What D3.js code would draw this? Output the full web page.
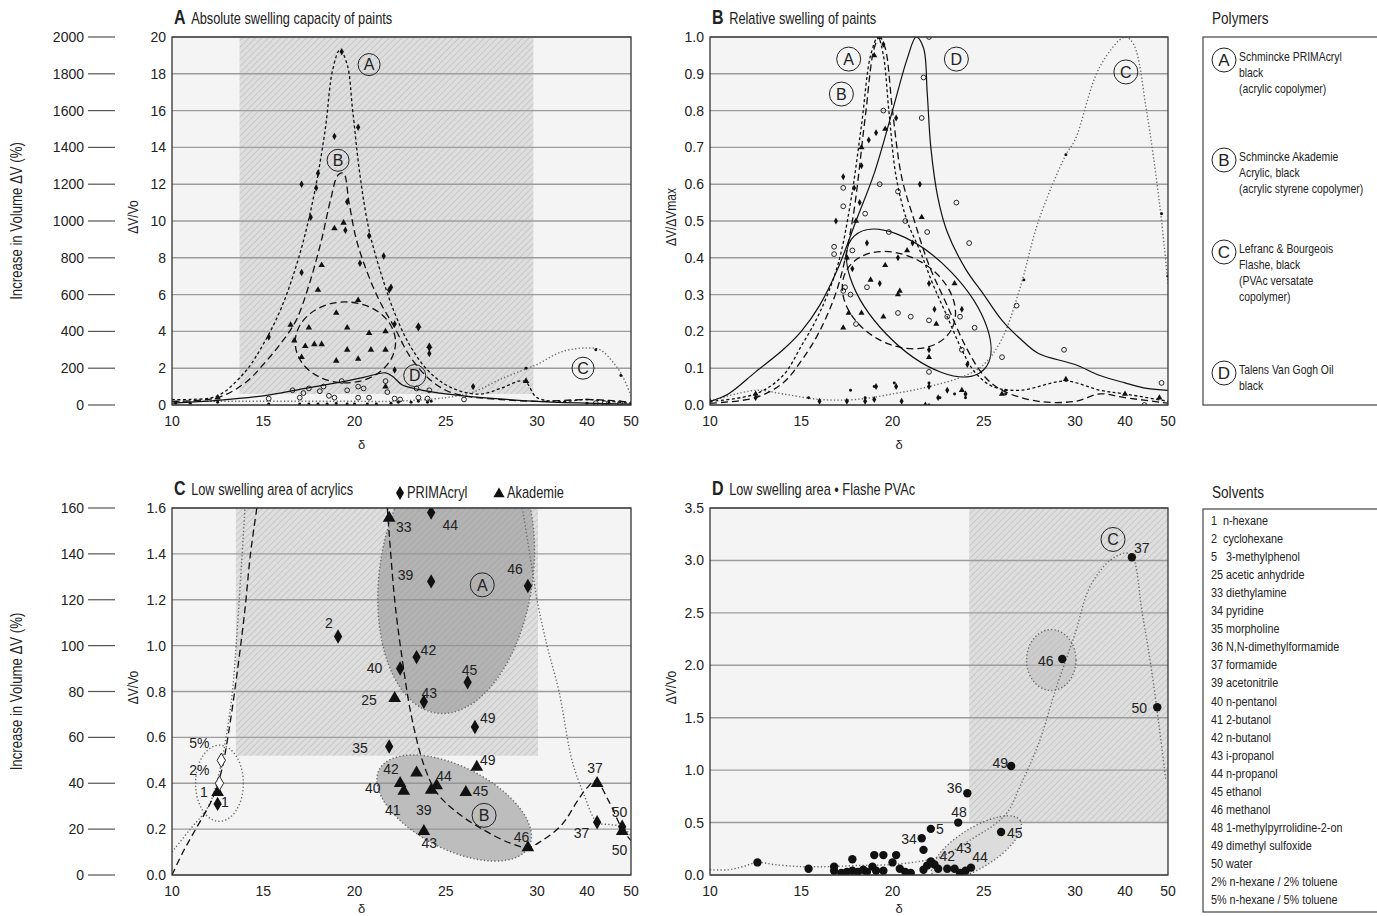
<!DOCTYPE html>
<html lang='en'>
<head>
<meta http-equiv='Content-Type' content='text/html;charset=utf-8'/>
<title>Swelling of paints in solvents</title>
<script src='https://d3js.org/d3.v7.min.js'></script>
<style>
	body { margin: 0; background: #ffffff; }
	svg text { font-family: 'Liberation Sans', Arial, sans-serif; fill: #222; }
</style>
</head>
<body>
<script>
'use strict'

// ---- shared axis values ----
const xBreaks = [10, 30, 40, 50]			// the delta axis is stretched between 10 and 30
const xTicks = [10, 15, 20, 25, 30, 40, 50]

// ---- panel A : absolute swelling (dV/V0) ----
const aCurveA = [[10,0.3],[11,0.3],[12.5,0.5],[14,1.8],[15,3.3],[16,5.3],[17,8.2],[17.8,11.5],[18.4,15],[18.8,18.2],[19.2,19.3],[19.6,18.5],[19.9,16],[20.3,12.5],[20.8,9.5],[21.5,7],[22.2,5],[23,3.3],[24,1.9],[25,1.1],[26,0.7],[27,0.6],[28,0.9],[29.3,1.3],[30,0.4],[35,0.2],[40,0.3],[45,0.2],[50,0.1]]
const aCurveB = [[10,0.2],[12.5,0.4],[14,1.2],[15,2.2],[16,3.4],[16.8,4.6],[17.5,6.5],[18.2,9],[18.7,11.2],[19.1,12.5],[19.4,12.6],[19.7,11],[20.1,9],[20.7,7.2],[21.4,5.6],[22.2,4.2],[23,2.7],[24,1.5],[25,0.8],[26,0.5],[28,0.3],[30,0.2],[40,0.3],[45,0.25],[50,0.15]]
const aCurveC = [[10,0.2],[15,0.2],[20,0.2],[22,0.2],[25,0.4],[26.5,0.7],[28,1.4],[29.5,2.0],[30,2.2],[35,2.9],[40,3.1],[43,3.0],[46,2.3],[48,1.6],[50,0.5]]
const aCurveD = [[10,0.1],[12.5,0.25],[15,0.5],[17,0.85],[19,1.2],[20.5,1.5],[21.7,1.75],[22.1,1.55],[22.6,1.1],[23.5,0.85],[25,0.6],[27,0.4],[30,0.2],[40,0.1],[50,0.05]]
const aDiamonds = [[19.3,19.2],[20.2,15.1],[18.9,14.6],[18.0,12.6],[17.1,12.0],[17.9,11.8],[19.6,11.05],[17.6,10.2],[19.5,9.5],[20.8,9.2],[20.3,7.7],[21.6,8.1],[17.1,7.2],[21.9,6.25],[22.0,6.4],[15.3,3.7],[23.5,4.2],[24.1,3.1],[22.2,1.9],[26.5,1.0],[22.2,4.4],[24.1,2.8]]
const aTriangles = [[18.9,9.6],[19.4,9.9],[18.2,7.6],[18.0,6.25],[19.0,5.0],[20.2,5.7],[16.5,4.35],[17.5,4.2],[19.6,4.2],[20.8,3.9],[16.7,3.5],[17.3,3.2],[17.8,3.3],[18.2,3.3],[19.6,3.0],[20.9,3.0],[21.7,3.0],[17.1,2.6],[19.0,2.4],[20.2,2.5],[21.7,4.0],[23.5,4.3],[24.1,3.2],[29.4,1.3],[21.7,1.0],[12.5,0.4]]
const aCircles = [[15.3,0.35],[16.6,0.8],[17.2,0.65],[17.5,0.9],[18.1,0.75],[18.6,0.5],[18.3,1.0],[18.9,0.4],[19.6,0.8],[19.3,1.3],[20.2,1.0],[20.5,0.9],[20.8,0.4],[20.2,0.4],[21.7,1.3],[21.8,0.7],[22.2,0.35],[23.4,0.9],[24.1,0.8],[23.5,0.4],[24.0,0.35],[26.0,0.3],[42,0.1],[44,0.1],[47.5,0.1],[17.0,0.4],[22.5,0.3]]
const aDots = [[10.2,0.1],[11,0.1],[12.5,0.15],[15.3,0.05],[17,0.05],[17.5,0.05],[18,0.05],[18.5,0.05],[19,0.08],[19.6,0.05],[20,0.05],[20.7,0.06],[21.2,0.05],[22,0.1],[22.4,0.15],[23.1,0.15],[23.5,0.2],[24,0.15],[24.2,0.2],[26.5,1.0],[29.4,2.0],[42,3.0],[47.7,1.6],[40,0.1],[45,0.1],[50,0.05]]
const aLetters = [['A',20.8,18.5],['B',19.1,13.3],['C',39.2,2.0],['D',23.3,1.6]]
const aEllipses = [{cx:19.5, cy:3.4, rx:2.75, ry:2.2, rot:0, line:'B'}]
const aHatch = [13.7, 29.8, 0.6, 20]

// ---- panel B : relative swelling (dV/dVmax) ----
const bCurveA = [[10,0.01],[12.5,0.03],[14,0.08],[15,0.16],[16,0.25],[17,0.38],[17.7,0.55],[18.3,0.76],[18.8,0.95],[19.2,1.0],[19.5,0.95],[19.8,0.8],[20.2,0.62],[20.8,0.5],[21.5,0.42],[22.2,0.33],[23,0.24],[23.8,0.15],[24.5,0.09],[25.5,0.05],[27,0.04],[29.5,0.065],[35,0.04],[40,0.03],[50,0.01]]
const bCurveB = [[10,0.005],[12.5,0.02],[14,0.06],[15,0.12],[16,0.2],[17,0.32],[17.8,0.5],[18.5,0.78],[19,0.97],[19.3,1.0],[19.6,0.97],[20,0.8],[20.5,0.62],[21.2,0.5],[22,0.38],[23,0.27],[24,0.16],[25,0.08],[26,0.04],[28,0.01],[30,0.01],[35,0.03],[40,0.02],[50,0.005]]
const bCurveC = [[10,0.01],[12.5,0.04],[14,0.03],[16,0.015],[18,0.015],[20,0.03],[22,0.05],[24,0.08],[25,0.11],[26,0.18],[27,0.32],[28,0.5],[29.5,0.68],[30,0.72],[35,0.92],[40,1.0],[42,0.98],[45,0.8],[48,0.55],[50,0.33]]
const bCurveD = [[10,0.01],[11,0.03],[12.5,0.09],[14,0.15],[15,0.2],[16,0.27],[17,0.37],[18,0.5],[19,0.63],[20,0.8],[20.8,0.94],[21.3,1.0],[21.7,0.97],[21.9,0.85],[22.1,0.7],[22.5,0.56],[23,0.47],[24,0.37],[25,0.3],[26,0.23],[27,0.18],[28,0.14],[30,0.11],[35,0.08],[40,0.06],[45,0.045],[50,0.04]]
const bDiamonds = [[19.3,1.0],[19.5,0.98],[20.2,0.78],[19.1,0.74],[18.7,0.72],[18.3,0.65],[17.9,0.59],[18.2,0.55],[17.3,0.62],[16.9,0.5],[17.5,0.4],[17.8,0.37],[18.6,0.44],[19.3,0.33],[20.3,0.4],[21.1,0.44],[21.5,0.6],[22.0,0.33],[22.3,0.26],[23.8,0.26],[22.0,0.15],[24.1,0.11],[19.1,0.05],[20.2,0.05],[22.0,0.05],[23.0,0.04],[24.0,0.03],[22.5,0.02],[17.5,0.01],[18.5,0.01],[19.0,0.015],[20.5,0.01],[21.8,0.0],[16.0,0.01],[12.5,0.02],[10.0,0.01]]
const bTriangles = [[19.0,0.95],[19.6,0.75],[18.3,0.7],[18.0,0.5],[17.5,0.4],[17.6,0.25],[17.3,0.21],[18.3,0.25],[18.8,0.34],[19.6,0.38],[19.5,0.24],[20.3,0.3],[20.4,0.31],[20.8,0.42],[21.6,0.51],[23.4,0.33],[22.4,0.22],[22.0,0.13],[23.8,0.04],[26.0,0.03],[29.5,0.07],[40,0.03],[48,0.02],[12.5,0.03]]
const bCircles = [[22.0,1.0],[21.7,0.89],[21.6,0.78],[19.5,0.8],[19.3,0.6],[17.3,0.54],[16.8,0.43],[16.8,0.41],[17.4,0.32],[17.3,0.31],[17.8,0.42],[18.5,0.52],[18.6,0.32],[19.8,0.47],[20.3,0.58],[20.7,0.5],[21.9,0.47],[23.5,0.55],[24.2,0.44],[20.3,0.25],[21.0,0.24],[18.0,0.22],[17.7,0.3],[22.0,0.23],[23.0,0.24],[23.7,0.24],[24.5,0.21],[23.8,0.15],[22.0,0.09],[26.0,0.13],[26.8,0.27],[29.4,0.15],[48.5,0.06],[44.5,0.0],[17.3,0.59]]
const bDots = [[17.7,0.04],[18.5,0.02],[19.0,0.05],[20.1,0.06],[22.0,0.06],[22.6,0.02],[23.4,0.03],[24.0,0.02],[26.2,0.04],[26.2,0.03],[29.5,0.68],[48.5,0.52],[50,0.35],[27.2,0.34],[22,0.0],[15.4,0.02]]
const bLetters = [['A',17.6,0.94],['B',17.2,0.845],['C',40.2,0.905],['D',23.5,0.94]]
const bEllipses = [{cx:20.35, cy:0.285, rx:3.3, ry:0.12, rot:30, line:'B'}, {cx:21.44, cy:0.277, rx:5.1, ry:0.122, rot:46, line:'D'}]

// ---- panel C : low swelling area of acrylics ----
const cPrimacryl = [[12.5,0.31],[19.1,1.04],[21.9,0.56],[22.5,0.90],[23.4,0.95],[23.8,0.755],[24.2,1.28],[24.2,1.58],[26.2,0.84],[26.6,0.645],[29.5,1.26],[42.3,0.23],[48,0.21]]
const cPrimacrylOpen = [[12.6,0.40],[12.7,0.50]]
const cAkademie = [[12.5,0.36],[21.9,1.556],[22.2,0.77],[22.5,0.40],[22.7,0.366],[23.4,0.445],[24.2,0.37],[24.5,0.39],[26.1,0.36],[26.7,0.47],[23.8,0.19],[29.5,0.12],[42.3,0.40],[48,0.19]]
const cLabels = [['33',22.7,1.518],['44',25.25,1.526],['39',22.8,1.308],['46',28.8,1.334],['2',18.6,1.099],['42',24.05,0.981],['40',21.1,0.904],['45',26.3,0.894],['25',20.8,0.763],['43',24.1,0.795],['49',27.3,0.684],['35',20.3,0.555],['49',27.3,0.50],['42',22.0,0.462],['44',24.9,0.43],['40',21.0,0.38],['45',26.9,0.368],['41',22.1,0.283],['39',23.8,0.283],['43',24.1,0.139],['46',29.15,0.167],['37',41.8,0.466],['37',38.9,0.183],['50',47.4,0.276],['50',47.4,0.109],['5%',11.5,0.575],['2%',11.5,0.458],['1',11.75,0.363],['1',12.9,0.32]]
const cDashLeft = [[10,0.0],[10.6,0.1],[11.3,0.2],[12.2,0.33],[12.7,0.45],[13.1,0.62],[13.6,0.9],[14.0,1.16],[14.3,1.4],[14.65,1.6]]
const cDashRight = [[21.8,1.6],[22.2,1.2],[22.6,0.95],[23.1,0.7],[23.8,0.48],[24.5,0.36],[25.5,0.28],[27,0.2],[28.5,0.14],[29.5,0.12],[31,0.15],[35,0.22],[38,0.32],[40,0.38],[42,0.41],[45,0.32],[48,0.2],[50,0.15]]
const cDotLeft = [[10,0.1],[11,0.2],[12,0.3],[12.6,0.45],[13.0,0.62],[13.3,0.79],[13.6,1.1],[14.0,1.6]]
const cDotRight = [[29.2,1.6],[29.8,1.3],[30,1.2],[32,1.0],[34.4,0.8],[37,0.5],[39.4,0.35],[42.3,0.23],[45,0.22],[48,0.21],[50,0.17]]
const cLetters = [['A',27.0,1.265],['B',27.1,0.26]]
const cEllipses = [
	{cx:25.57, cy:1.31, rx:4.2, ry:0.61, rot:8, line:'C', fill:'#8f8f8f'},
	{cx:25.46, cy:0.292, rx:4.8, ry:0.18, rot:27, line:'C', fill:'#8f8f8f'},
	{cx:12.6, cy:0.40, rx:1.31, ry:0.166, rot:0, line:'C', fill:'none'}
]
const cHatch = [13.5, 30.2, 0.52, 1.6]

// ---- panel D : low swelling area of Flashe PVAc ----
const dFlashe = [[12.6,0.12],[15.4,0.06],[16.8,0.08],[16.8,0.04],[17.2,0.02],[17.5,0.03],[17.8,0.04],[17.8,0.15],[18.1,0.03],[18.4,0.05],[18.6,0.03],[18.9,0.08],[19.0,0.19],[19.1,0.04],[19.5,0.19],[19.5,0.04],[20.2,0.19],[20.0,0.12],[20.4,0.06],[20.7,0.03],[21.0,0.02],[21.7,0.24],[21.6,0.35],[22.1,0.44],[21.7,0.05],[21.9,0.09],[22.1,0.13],[22.3,0.10],[22.5,0.06],[23.0,0.06],[23.4,0.06],[23.7,0.02],[24.0,0.04],[24.3,0.07],[23.6,0.50],[24.1,0.78],[25.95,0.41],[26.5,1.04],[29.3,2.06],[41.6,3.03],[47.5,1.60]]
const dLabels = [['34',20.9,0.34],['5',22.6,0.44],['48',23.65,0.60],['36',23.4,0.83],['49',25.9,1.07],['45',26.7,0.40],['46',28.4,2.04],['37',43.9,3.12],['50',43.3,1.59],['42',23.0,0.18],['43',23.9,0.26],['44',24.8,0.17]]
const dCurveC = [[10,0.05],[11,0.05],[11.8,0.08],[12.6,0.12],[13.5,0.1],[15,0.08],[16.5,0.08],[18,0.09],[20,0.1],[21.5,0.13],[22.6,0.17],[23.5,0.25],[24.5,0.36],[25.5,0.47],[26.3,0.6],[27,0.85],[28,1.25],[29,1.8],[30,2.3],[33,2.75],[37,3.0],[40,3.07],[41.6,3.05],[44,2.5],[46,2.0],[48,1.4],[49.5,0.9]]
const dLetters = [['C',37.6,3.2]]
const dEllipses = [
	{cx:24.6, cy:0.258, rx:2.83, ry:0.19, rot:-32, line:'C', fill:'#c9c9c9'},
	{cx:28.7, cy:2.05, rx:1.5, ry:0.29, rot:0, line:'C', fill:'#bdbdbd'}
]
const dHatch = [24.2, 50, 0.5, 3.5]

// ---- legends ----
const polymerNames = [
	['A', ['Schmincke PRIMAcryl', 'black', '(acrylic copolymer)']],
	['B', ['Schmincke Akademie', 'Acrylic, black', '(acrylic styrene copolymer)']],
	['C', ['Lefranc & Bourgeois', 'Flashe, black', '(PVAc versatate', 'copolymer)']],
	['D', ['Talens Van Gogh Oil', 'black']]
]
const solventNames = ['1  n-hexane', '2  cyclohexane', '5   3-methylphenol', '25 acetic anhydride', '33 diethylamine', '34 pyridine', '35 morpholine', '36 N,N-dimethylformamide', '37 formamide', '39 acetonitrile', '40 n-pentanol', '41 2-butanol', '42 n-butanol', '43 i-propanol', '44 n-propanol', '45 ethanol', '46 methanol', '48 1-methylpyrrolidine-2-on', '49 dimethyl sulfoxide', '50 water', '2% n-hexane / 2% toluene', '5% n-hexane / 5% toluene']

// line look of each paint
const lineStyle = {
	A: {dash: '3,2.5', stroke: '#111', width: 1.3},
	B: {dash: '7,4', stroke: '#111', width: 1.3},
	C: {dash: '1.3,2.2', stroke: '#6a6a6a', width: 1.4},
	D: {dash: null, stroke: '#111', width: 1.2}
}
const narrow = 0.8		// the printed face is a condensed one

const svg = d3.select('body').append('svg')
	.attr('width', 1377)
	.attr('height', 916)

svg.append('rect')
	.attr('width', '100%')
	.attr('height', '100%')
	.attr('fill', '#ffffff')

const defs = svg.append('defs')
const hatch = defs.append('pattern')
	.attr('id', 'hatch')
	.attr('width', 4.5)
	.attr('height', 4.5)
	.attr('patternUnits', 'userSpaceOnUse')
	.attr('patternTransform', 'rotate(45)')
hatch.append('rect').attr('width', 4.5).attr('height', 4.5).attr('fill', '#dedede')
hatch.append('line').attr('x1', 0).attr('y1', 0).attr('x2', 0).attr('y2', 4.5)
	.attr('stroke', '#c3c3c3').attr('stroke-width', 1.6)

/**
 * ctext
 * Condensed text, squeezed horizontally.
 */
function ctext(parent, x, y, size, str, anchor, turn)
{
	return parent.append('text')
		.attr('transform', `translate(${x},${y})${turn ? ' rotate(-90)' : ''} scale(${narrow},1)`)
		.attr('text-anchor', anchor || 'start')
		.style('font-size', size + 'px')
		.text(str)
}

/**
 * panel
 * Draw frame, grid, hatching and axes of one plot.
 * @returns {object} scales and a clipped group for the marks
 */
function panel(p)
{
	const x = d3.scaleLinear().domain(xBreaks)
		.range([p.left, p.left + 365, p.left + 415, p.left + p.width])
	const y = d3.scaleLinear().domain([0, p.yMax]).range([p.top + p.height, p.top])

	defs.append('clipPath').attr('id', 'clip' + p.id)
		.append('rect')
		.attr('x', p.left).attr('y', p.top)
		.attr('width', p.width).attr('height', p.height)

	svg.append('rect')
		.attr('x', p.left).attr('y', p.top)
		.attr('width', p.width).attr('height', p.height)
		.attr('fill', '#f4f4f4')

	if (p.hatch)
	{
		svg.append('rect')
			.attr('x', x(p.hatch[0]))
			.attr('y', y(p.hatch[3]))
			.attr('width', x(p.hatch[1]) - x(p.hatch[0]))
			.attr('height', y(p.hatch[2]) - y(p.hatch[3]))
			.attr('fill', 'url(#hatch)')
	}

	const yTicks = d3.range(0, p.yMax + p.yStep / 2, p.yStep)
	svg.append('g').selectAll('line')
		.data(yTicks)
		.join('line')
		.attr('x1', p.left).attr('x2', p.left + p.width)
		.attr('y1', d => y(d)).attr('y2', d => y(d))
		.attr('stroke', '#9c9c9c')
		.attr('stroke-width', 1.4)

	svg.append('g').selectAll('text')
		.data(yTicks)
		.join('text')
		.attr('x', p.left - 6)
		.attr('y', d => y(d))
		.attr('dy', '0.36em')
		.attr('text-anchor', 'end')
		.style('font-size', '14px')
		.text(d => d3.format(p.yFormat)(d))

	svg.append('g').selectAll('text')
		.data(xTicks)
		.join('text')
		.attr('x', d => x(d))
		.attr('y', p.top + p.height + 21)
		.attr('text-anchor', 'middle')
		.style('font-size', '14px')
		.text(d => d)

	svg.append('text')
		.attr('x', p.left + p.width / 2 - 40)
		.attr('y', Math.min(p.top + p.height + 44, 913))
		.attr('text-anchor', 'middle')
		.style('font-size', '13px')
		.text('δ')

	ctext(svg, p.left - 34, p.top + p.height / 2 - 4, 15, p.yLabel, 'middle', true)

	// panel title
	const title = svg.append('text')
		.attr('transform', `translate(${p.left + 2},${p.top - 13}) scale(${narrow},1)`)
	title.append('tspan').style('font-size', '20px').style('font-weight', 'bold').text(p.id)
	title.append('tspan').attr('dx', 7).style('font-size', '16px').text(p.title)

	if (p.pctMax)
	{
		const yp = d3.scaleLinear().domain([0, p.pctMax]).range([p.top + p.height, p.top])
		const pct = d3.range(0, p.pctMax + 1, p.pctStep)
		svg.append('g').selectAll('line')
			.data(pct)
			.join('line')
			.attr('x1', 88).attr('x2', 115)
			.attr('y1', d => yp(d)).attr('y2', d => yp(d))
			.attr('stroke', '#555')
			.attr('stroke-width', 1.2)
		svg.append('g').selectAll('text')
			.data(pct)
			.join('text')
			.attr('x', 84)
			.attr('y', d => yp(d))
			.attr('dy', '0.36em')
			.attr('text-anchor', 'end')
			.style('font-size', '14px')
			.text(d => d)
		ctext(svg, 22, p.top + p.height / 2, 16.5, 'Increase in Volume ΔV (%)', 'middle', true)
	}

	const g = svg.append('g').attr('clip-path', `url(#clip${p.id})`)
	return {x: x, y: y, g: g, p: p}
}

/**
 * frame
 * Plot border drawn last, above the marks.
 */
function frame(s)
{
	svg.append('rect')
		.attr('x', s.p.left).attr('y', s.p.top)
		.attr('width', s.p.width).attr('height', s.p.height)
		.attr('fill', 'none')
		.attr('stroke', '#333')
		.attr('stroke-width', 1.3)
}

function curve(s, data, key)
{
	const st = lineStyle[key]
	const line = d3.line()
		.x(d => s.x(d[0]))
		.y(d => s.y(d[1]))
		.curve(d3.curveCatmullRom.alpha(0.5))
	s.g.append('path')
		.attr('d', line(data))
		.attr('fill', 'none')
		.attr('stroke', st.stroke)
		.attr('stroke-width', st.width)
		.attr('stroke-dasharray', st.dash)
}

function ellipses(s, list)
{
	s.g.selectAll(null)
		.data(list)
		.join('ellipse')
		.attr('transform', d => `translate(${s.x(d.cx)},${s.y(d.cy)}) rotate(${d.rot})`)
		.attr('rx', d => s.x(d.cx + d.rx) - s.x(d.cx))
		.attr('ry', d => s.y(d.cy) - s.y(d.cy + d.ry))
		.attr('fill', d => d.fill || 'none')
		.attr('fill-opacity', 0.55)
		.attr('stroke', d => lineStyle[d.line].stroke)
		.attr('stroke-width', d => lineStyle[d.line].width)
		.attr('stroke-dasharray', d => lineStyle[d.line].dash)
}

function symbols(s, data, type, size, fill)
{
	s.g.selectAll(null)
		.data(data)
		.join('path')
		.attr('transform', d => `translate(${s.x(d[0])},${s.y(d[1])})`)
		.attr('d', d3.symbol().type(type).size(size))
		.attr('fill', fill)
		.attr('stroke', '#111')
		.attr('stroke-width', fill === '#111' ? 0 : 0.9)
}

function letters(s, list, r)
{
	const l = svg.append('g').selectAll('g')
		.data(list)
		.join('g')
		.attr('transform', d => `translate(${s.x(d[1])},${s.y(d[2])})`)
	l.append('circle').attr('r', r).attr('fill', 'none').attr('stroke', '#222').attr('stroke-width', 1)
	l.append('text').attr('text-anchor', 'middle').attr('dy', '0.36em')
		.style('font-size', '16px').text(d => d[0])
}

function labels(s, list)
{
	svg.append('g').selectAll('text')
		.data(list)
		.join('text')
		.attr('x', d => s.x(d[1]))
		.attr('y', d => s.y(d[2]))
		.attr('dy', '0.36em')
		.attr('text-anchor', 'middle')
		.style('font-size', '14px')
		.text(d => d[0])
}

// ---- panel A ----
const A = panel({id: 'A', left: 172, top: 37, width: 459, height: 368, yMax: 20, yStep: 2, yFormat: 'd',
	yLabel: 'ΔV/Vo', title: 'Absolute swelling capacity of paints', hatch: aHatch, pctMax: 2000, pctStep: 200})
ellipses(A, aEllipses)
curve(A, aCurveC, 'C')
curve(A, aCurveA, 'A')
curve(A, aCurveB, 'B')
curve(A, aCurveD, 'D')
symbols(A, aCircles, d3.symbolCircle, 18, 'none')
symbols(A, aDots, d3.symbolCircle, 7, '#111')
symbols(A, aTriangles, d3.symbolTriangle, 18, '#111')
symbols(A, aDiamonds, d3.symbolDiamond, 16, '#111')
frame(A)
letters(A, aLetters, 11)

// ---- panel B ----
const B = panel({id: 'B', left: 710, top: 37, width: 458, height: 368, yMax: 1, yStep: 0.1, yFormat: '.1f',
	yLabel: 'ΔV/ΔVmax', title: 'Relative swelling of paints'})
ellipses(B, bEllipses)
curve(B, bCurveC, 'C')
curve(B, bCurveA, 'A')
curve(B, bCurveB, 'B')
curve(B, bCurveD, 'D')
symbols(B, bCircles, d3.symbolCircle, 18, 'none')
symbols(B, bDots, d3.symbolCircle, 7, '#111')
symbols(B, bTriangles, d3.symbolTriangle, 16, '#111')
symbols(B, bDiamonds, d3.symbolDiamond, 14, '#111')
frame(B)
letters(B, bLetters, 12)

// ---- panel C ----
const C = panel({id: 'C', left: 172, top: 508, width: 459, height: 367, yMax: 1.6, yStep: 0.2, yFormat: '.1f',
	yLabel: 'ΔV/Vo', title: 'Low swelling area of acrylics', hatch: cHatch, pctMax: 160, pctStep: 20})
ellipses(C, cEllipses)
curve(C, cDotLeft, 'C')
curve(C, cDotRight, 'C')
curve(C, cDashLeft, 'B')
curve(C, cDashRight, 'B')
symbols(C, cAkademie, d3.symbolTriangle, 70, '#111')
symbols(C, cPrimacryl, d3.symbolDiamond, 60, '#111')
symbols(C, cPrimacrylOpen, d3.symbolDiamond, 60, '#fff')
frame(C)
letters(C, cLetters, 12)
labels(C, cLabels)

// marker key in the title of C
svg.append('path').attr('transform', 'translate(400,493)')
	.attr('d', d3.symbol().type(d3.symbolDiamond).size(55)).attr('fill', '#111')
ctext(svg, 407, 498, 16, 'PRIMAcryl')
svg.append('path').attr('transform', 'translate(499,494)')
	.attr('d', d3.symbol().type(d3.symbolTriangle).size(55)).attr('fill', '#111')
ctext(svg, 507, 498, 16, 'Akademie')

// ---- panel D ----
const D = panel({id: 'D', left: 710, top: 508, width: 458, height: 367, yMax: 3.5, yStep: 0.5, yFormat: '.1f',
	yLabel: 'ΔV/Vo', title: 'Low swelling area  •  Flashe PVAc', hatch: dHatch})
ellipses(D, dEllipses)
curve(D, dCurveC, 'C')
symbols(D, dFlashe, d3.symbolCircle, 55, '#111')
frame(D)
letters(D, dLetters, 12)
labels(D, dLabels)

// ---- legend: polymers ----
const polyTop = [60, 160, 252, 373]
ctext(svg, 1212, 24, 17, 'Polymers')
svg.append('rect').attr('x', 1203).attr('y', 37).attr('width', 200).attr('height', 368)
	.attr('fill', 'none').attr('stroke', '#444').attr('stroke-width', 1.2)
const pl = svg.append('g').selectAll('g')
	.data(polymerNames)
	.join('g')
	.attr('transform', (d, i) => `translate(1224,${polyTop[i]})`)
pl.append('circle').attr('r', 12).attr('fill', 'none').attr('stroke', '#222')
pl.append('text').attr('text-anchor', 'middle').attr('dy', '0.36em').style('font-size', '17px').text(d => d[0])
pl.selectAll('.line')
	.data(d => d[1])
	.join('text')
	.attr('class', 'line')
	.attr('transform', (d, i) => `translate(15,${i * 16 + 1}) scale(${narrow},1)`)
	.style('font-size', '13px')
	.text(d => d)

// ---- legend: solvents ----
ctext(svg, 1212, 498, 17, 'Solvents')
svg.append('rect').attr('x', 1203).attr('y', 509).attr('width', 200).attr('height', 403)
	.attr('fill', 'none').attr('stroke', '#444').attr('stroke-width', 1.2)
svg.append('g').selectAll('text')
	.data(solventNames)
	.join('text')
	.attr('transform', (d, i) => `translate(1211,${525 + i * 18.05}) scale(${narrow},1)`)
	.style('font-size', '13.5px')
	.style('white-space', 'pre')
	.text(d => d)
</script>
</body>
</html>
